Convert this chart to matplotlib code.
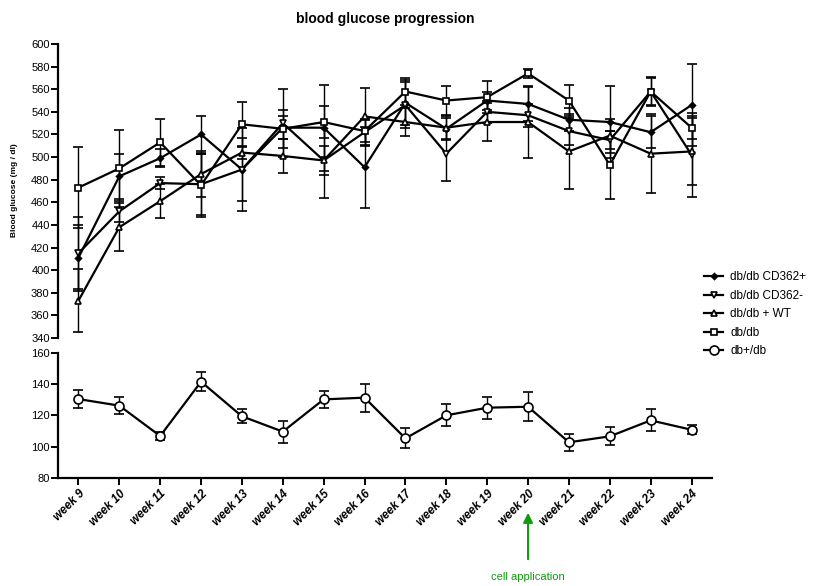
import matplotlib
matplotlib.use("Agg")
from matplotlib import pyplot as plt
import numpy as np

plt.rcParams['font.family'] = ['Liberation Sans', 'DejaVu Sans']

weeks = ['week 9', 'week 10', 'week 11', 'week 12', 'week 13', 'week 14',
         'week 15', 'week 16', 'week 17', 'week 18', 'week 19', 'week 20',
         'week 21', 'week 22', 'week 23', 'week 24']

# upper panel groups (mean, sem)
cd362_pos = [411, 483, 499, 520, 489, 526, 526, 491, 548, 525, 550, 547, 533, 531, 522, 546]
cd362_pos_err = [29, 20, 8, 16, 28, 10, 38, 36, 20, 10, 8, 15, 10, 32, 14, 36]
cd362_neg = [415, 452, 477, 476, 489, 530, 497, 522, 546, 503, 540, 537, 523, 515, 558, 502]
cd362_neg_err = [32, 9, 5, 27, 37, 30, 33, 12, 20, 24, 10, 10, 12, 8, 12, 37]
dbdb_wt = [373, 438, 461, 485, 504, 501, 497, 536, 531, 526, 531, 531, 505, 519, 503, 505]
dbdb_wt_err = [28, 21, 15, 20, 6, 15, 13, 25, 12, 10, 17, 32, 33, 15, 35, 30]
dbdb = [473, 490, 513, 475, 529, 525, 531, 523, 558, 550, 553, 574, 550, 493, 558, 526]
dbdb_err = [36, 34, 21, 28, 20, 17, 14, 10, 12, 13, 14, 4, 14, 30, 13, 10]

# lower panel
dbplus = [130.4, 126.2, 106.8, 141.5, 119.4, 109.6, 130.2, 131.3,
          105.3, 120.0, 124.9, 125.5, 102.8, 106.6, 116.8, 110.8]
dbplus_err = [6, 5.5, 2.7, 6, 4.5, 7, 5.5, 9, 6.4, 7, 7, 9.4, 5.5, 5.8, 7, 3]

x = np.arange(len(weeks))

fig = plt.figure(figsize=(8.18, 5.86), dpi=100)
ax1 = fig.add_axes([0.0709, 0.4232, 0.7995, 0.5017])
ax2 = fig.add_axes([0.0709, 0.1843, 0.7995, 0.2138])

groups = [
    (cd362_pos, cd362_pos_err, 'D', 3, 'black', 'db/db CD362+'),
    (cd362_neg, cd362_neg_err, 'v', 5, 'white', 'db/db CD362-'),
    (dbdb_wt, dbdb_wt_err, '^', 5, 'white', 'db/db + WT'),
    (dbdb, dbdb_err, 's', 5, 'white', 'db/db'),
]
handles = []
labels = []
for vals, err, mk, ms, fc, lab in groups:
    eb = ax1.errorbar(x, vals, yerr=err, color='black', lw=1.6, marker=mk,
                      ms=ms, mfc=fc, mec='black', mew=1.2, elinewidth=1.0,
                      capsize=3.5, capthick=1.0)
    handles.append(eb[0])
    labels.append(lab)

eb = ax2.errorbar(x, dbplus, yerr=dbplus_err, color='black', lw=1.6, marker='o',
                  ms=6.5, mfc='white', mec='black', mew=1.2, elinewidth=1.0,
                  capsize=3.5, capthick=1.0)
handles.append(eb[0])
labels.append('db+/db')

ax1.set_xlim(-0.5, 15.5)
ax1.set_ylim(340, 600)
ax1.set_yticks(np.arange(340, 601, 20))
ax1.set_xticks([])
for s in ['top', 'right', 'bottom']:
    ax1.spines[s].set_visible(False)
ax1.spines['left'].set_linewidth(1.6)
ax1.tick_params(axis='y', labelsize=8, width=1.4, length=5, pad=1)

ax2.set_xlim(-0.5, 15.5)
ax2.set_ylim(80, 160)
ax2.set_yticks(np.arange(80, 161, 20))
ax2.set_xticks(x)
ax2.set_xticklabels(weeks, rotation=45, ha='right', rotation_mode='anchor',
                    fontsize=8.5, fontweight='bold', fontstyle='italic')
for s in ['top', 'right']:
    ax2.spines[s].set_visible(False)
ax2.spines['left'].set_linewidth(1.6)
ax2.spines['bottom'].set_linewidth(1.6)
ax2.tick_params(axis='y', labelsize=8, width=1.4, length=5, pad=1)
ax2.tick_params(axis='x', width=1.4, length=5, pad=2)

fig.text(0.471, 0.968, 'blood glucose progression', ha='center', va='center',
         fontsize=10, fontweight='bold')
fig.text(0.018, 0.675, 'Blood glucose (mg / dl)', rotation=90, ha='center',
         va='center', fontsize=6, fontweight='bold')

fig.legend(handles=handles, labels=labels,
           loc='upper left', bbox_to_anchor=(0.855, 0.545), frameon=False,
           fontsize=8.5, handlelength=1.6, handletextpad=0.6, labelspacing=0.55,
           borderaxespad=0)

green = '#119911'
ax2.annotate('', xy=(11, 76 / 586), xytext=(11, 24 / 586),
             xycoords=('data', 'figure fraction'),
             textcoords=('data', 'figure fraction'),
             arrowprops=dict(arrowstyle='-|>', color=green, lw=1.5,
                             mutation_scale=14), annotation_clip=False)
ax2.annotate('cell application', xy=(11, 9 / 586),
             xycoords=('data', 'figure fraction'), ha='center', va='center',
             color=green, fontsize=8, annotation_clip=False)

fig.savefig('out.png', dpi=100)
